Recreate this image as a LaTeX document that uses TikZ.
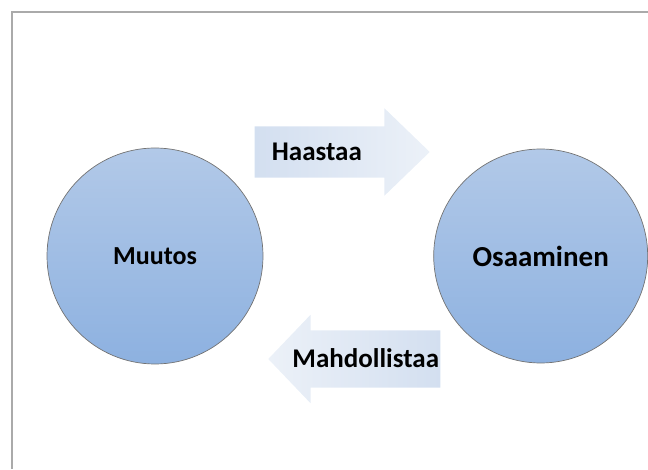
\documentclass[tikz,border=0pt]{standalone}
\usepackage{fontspec}
\setmainfont{Carlito}
\usetikzlibrary{shapes.arrows, positioning}

\definecolor{bubbletop}{RGB}{178,201,232}
\definecolor{bubblebottom}{RGB}{141,177,224}
\definecolor{arrowbase}{RGB}{211,223,240}
\definecolor{arrowtip}{RGB}{236,241,248}
\definecolor{framegray}{RGB}{170,170,170}

\begin{document}
\begin{tikzpicture}[
  x=1pt, y=1pt,
  node distance=170pt,
  bubble/.style={circle, draw=black!55, line width=0.7pt, inner sep=0pt,
                 top color=bubbletop, bottom color=bubblebottom,
                 font=\bfseries\fontsize{26}{30}\selectfont},
  flow/.style={single arrow, draw=none, inner xsep=0pt,
               text height=17pt, text depth=0pt,
               font=\bfseries\fontsize{27}{31}\selectfont}
]
\useasboundingbox (0,0) rectangle (648,469);
\draw[framegray, line width=1.5pt] (648,457) -- (12,457) -- (12,0);

% the two circles
\node[bubble, minimum size=216pt] (muutos) at (155,213) {Muutos};
\node[bubble, minimum size=214pt, right=of muutos,
      font=\bfseries\fontsize{29}{34}\selectfont] (osaaminen) {Osaaminen};

% block arrows between them
\node[flow, anchor=tip, minimum height=175pt, inner ysep=17pt,
      single arrow head extend=18pt, single arrow tip angle=88,
      left color=arrowbase, right color=arrowtip] (haastaa) at (430,317)
      {\makebox[114pt][l]{Haastaa}};
\node[flow, anchor=tip, shape border rotate=180, minimum height=172pt,
      inner ysep=20pt, single arrow head extend=15.5pt,
      single arrow tip angle=92.6,
      left color=arrowtip, right color=arrowbase] (mahdollistaa) at (268,110)
      {\makebox[142pt][r]{Mahdollistaa}};
\end{tikzpicture}
\end{document}
